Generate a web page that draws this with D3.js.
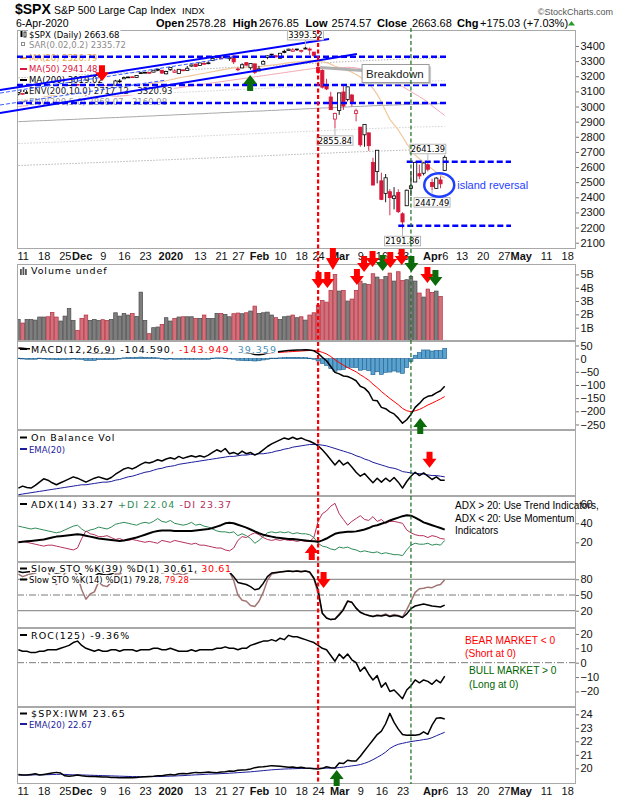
<!DOCTYPE html>
<html>
<head>
<meta charset="utf-8">
<script src="https://cdn.jsdelivr.net/npm/d3@7"></script>
<style>
  body { margin: 0; background: #fff; }
  svg { display: block; }
  text { white-space: pre; }
</style>
</head>
<body>
<svg id="chart" width="620" height="800"></svg>
<script>
// trading days with data (8-Nov-2019 .. 6-Apr-2020), then the empty part of the axis
var tradingDays = [
  ["2019-11", [8, 11, 12, 13, 14, 15, 18, 19, 20, 21, 22, 25, 26, 27, 29]],
  ["2019-12", [2, 3, 4, 5, 6, 9, 10, 11, 12, 13, 16, 17, 18, 19, 20, 23, 24, 26, 27, 30, 31]],
  ["2020-01", [2, 3, 6, 7, 8, 9, 10, 13, 14, 15, 16, 17, 21, 22, 23, 24, 27, 28, 29, 30, 31]],
  ["2020-02", [3, 4, 5, 6, 7, 10, 11, 12, 13, 14, 18, 19, 20, 21, 24, 25, 26, 27, 28]],
  ["2020-03", [2, 3, 4, 5, 6, 9, 10, 11, 12, 13, 16, 17, 18, 19, 20, 23, 24, 25, 26, 27, 30, 31]],
  ["2020-04", [1, 2, 3, 6]]
];
var futureDays = [
  ["2020-04", [7, 8, 9, 13, 14, 15, 16, 17, 20, 21, 22, 23, 24, 27, 28, 29, 30]],
  ["2020-05", [1, 4, 5, 6, 7, 8, 11, 12, 13, 14, 15, 18, 19]]
];

var axisTickDates = ["2019-11-11", "2019-11-18", "2019-11-25", "2019-12-02", "2019-12-09", "2019-12-16",
  "2019-12-23", "2020-01-02", "2020-01-13", "2020-01-21", "2020-01-27", "2020-02-03", "2020-02-10",
  "2020-02-18", "2020-02-24", "2020-03-02", "2020-03-09", "2020-03-16", "2020-03-23", "2020-04-01",
  "2020-04-06", "2020-04-13", "2020-04-20", "2020-04-27", "2020-05-01", "2020-05-11", "2020-05-18"];
var axisTickLabels = ["11", "18", "25", "Dec", "9", "16", "23", "2020", "13", "21", "27", "Feb", "10",
  "18", "24", "Mar", "9", "16", "23", "Apr", "6", "13", "20", "27", "May", "11", "18"];

// [open, high, low, close]
var spxOhlc = [
  [3082, 3094, 3074, 3093], [3081, 3088, 3076, 3087], [3089, 3102, 3084, 3092], [3084, 3098, 3078, 3094],
  [3091, 3098, 3083, 3097], [3107, 3121, 3104, 3120], [3118, 3124, 3112, 3122], [3128, 3128, 3112, 3120],
  [3114, 3119, 3091, 3108], [3109, 3110, 3094, 3104], [3112, 3113, 3097, 3110], [3118, 3134, 3118, 3134],
  [3135, 3142, 3131, 3141], [3145, 3155, 3143, 3154], [3147, 3150, 3139, 3141], [3143, 3144, 3110, 3114],
  [3087, 3095, 3070, 3093], [3103, 3120, 3103, 3113], [3119, 3120, 3102, 3117], [3134, 3150, 3134, 3146],
  [3141, 3148, 3135, 3136], [3135, 3143, 3126, 3133], [3136, 3143, 3134, 3142], [3141, 3176, 3138, 3169],
  [3167, 3182, 3156, 3169], [3183, 3198, 3183, 3191], [3195, 3198, 3191, 3193], [3196, 3199, 3191, 3191],
  [3192, 3206, 3192, 3205], [3223, 3226, 3217, 3221], [3226, 3228, 3221, 3224], [3225, 3226, 3220, 3223],
  [3227, 3240, 3227, 3240], [3247, 3248, 3235, 3240], [3240, 3240, 3216, 3221], [3216, 3232, 3213, 3231],
  [3245, 3258, 3236, 3258], [3226, 3246, 3223, 3235], [3218, 3247, 3215, 3246], [3242, 3245, 3233, 3237],
  [3238, 3268, 3236, 3253], [3267, 3275, 3263, 3275], [3281, 3282, 3261, 3265], [3271, 3288, 3268, 3288],
  [3285, 3294, 3277, 3283], [3283, 3298, 3280, 3289], [3303, 3317, 3302, 3317], [3323, 3330, 3318, 3330],
  [3321, 3329, 3317, 3321], [3331, 3337, 3320, 3322], [3316, 3327, 3302, 3326], [3334, 3334, 3281, 3295],
  [3248, 3259, 3234, 3244], [3255, 3286, 3253, 3276], [3290, 3293, 3271, 3273], [3256, 3285, 3243, 3284],
  [3282, 3282, 3214, 3226], [3235, 3268, 3235, 3249], [3280, 3306, 3280, 3298], [3324, 3338, 3313, 3335],
  [3344, 3348, 3334, 3346], [3335, 3341, 3323, 3328], [3319, 3352, 3317, 3352], [3365, 3375, 3352, 3358],
  [3370, 3382, 3369, 3379], [3365, 3386, 3361, 3374], [3378, 3381, 3367, 3380], [3370, 3375, 3356, 3370],
  [3380, 3394, 3379, 3386], [3380, 3390, 3341, 3373], [3360, 3360, 3328, 3338], [3258, 3260, 3215, 3226],
  [3239, 3247, 3119, 3128], [3140, 3183, 3109, 3116], [3063, 3097, 2977, 2979], [2917, 2960, 2856, 2954],
  [2974, 3091, 2945, 3090], [3096, 3137, 2977, 3003], [3046, 3131, 3034, 3130], [3076, 3083, 3000, 3024],
  [2954, 2986, 2902, 2972], [2864, 2864, 2734, 2747], [2813, 2883, 2734, 2882], [2826, 2826, 2707, 2741],
  [2631, 2661, 2479, 2481], [2570, 2711, 2492, 2711], [2509, 2563, 2381, 2386], [2426, 2554, 2367, 2529],
  [2437, 2454, 2281, 2398], [2393, 2467, 2320, 2409], [2432, 2453, 2296, 2305], [2291, 2301, 2192, 2237],
  [2344, 2450, 2344, 2447], [2458, 2571, 2408, 2476], [2501, 2637, 2501, 2630], [2556, 2616, 2520, 2541],
  [2559, 2632, 2545, 2627], [2615, 2641, 2571, 2585], [2498, 2523, 2447, 2471], [2459, 2533, 2456, 2527],
  [2515, 2538, 2460, 2489], [2578, 2677, 2575, 2664]
];

// billions; no volume yet for 6-Apr
var volume = [
  1.62, 1.35, 1.62, 1.62, 1.57, 1.8, 1.8, 1.82, 2.15, 1.8,
  1.5, 1.87, 2.45, 1.55, 0.8, 1.7, 1.95, 1.55, 1.62, 1.55,
  1.6, 1.55, 1.62, 2.12, 1.87, 2.07, 1.95, 2.07, 1.85, 3.67,
  1.55, 0.55, 1.0, 1.05, 1.25, 1.75, 1.5, 1.7, 1.8, 1.82,
  1.82, 1.82, 1.7, 1.7, 1.95, 1.7, 1.7, 2.07, 2.07, 2.0,
  1.82, 2.05, 2.1, 2.05, 2.12, 2.25, 2.62, 2.07, 2.12, 2.17,
  1.95, 1.75, 1.62, 1.82, 1.87, 1.95, 1.75, 1.82, 1.57, 1.95,
  2.12, 2.7, 3.05, 2.92, 3.8, 5.0, 3.75, 3.8, 3.0, 3.15,
  3.8, 4.5, 4.3, 4.25, 5.05, 4.8, 4.6, 4.85, 5.1, 4.5,
  5.2, 4.55, 4.6, 4.85, 4.5, 3.6, 3.3, 3.9, 3.65, 3.75,
  3.35, null
];

var ma20 = [
  3030, 3036, 3042, 3047, 3052, 3058, 3063, 3068, 3072, 3076,
  3081, 3086, 3091, 3096, 3100, 3103, 3104, 3105, 3107, 3110,
  3112, 3114, 3116, 3119, 3122, 3126, 3129, 3132, 3137, 3142,
  3146, 3150, 3155, 3159, 3164, 3170, 3177, 3183, 3189, 3195,
  3199, 3204, 3209, 3215, 3220, 3225, 3230, 3236, 3241, 3246,
  3251, 3255, 3256, 3258, 3260, 3262, 3262, 3263, 3266, 3270,
  3274, 3277, 3281, 3285, 3289, 3292, 3295, 3297, 3300, 3303,
  3303, 3300, 3296, 3290, 3280, 3266, 3258, 3246, 3238, 3226,
  3212, 3195, 3175, 3150, 3120, 3080, 3030, 2970, 2915, 2880,
  2845, 2800, 2755, 2715, 2680, 2655, 2632, 2610, 2588, 2566,
  2546, 2527
];
var ma50 = [
  3000, 3003, 3006, 3009, 3012, 3015, 3018, 3021, 3024, 3027,
  3030, 3033, 3036, 3039, 3042, 3044, 3046, 3048, 3050, 3053,
  3056, 3059, 3062, 3065, 3068, 3071, 3074, 3078, 3082, 3086,
  3090, 3094, 3098, 3102, 3106, 3110, 3115, 3120, 3124, 3128,
  3132, 3136, 3140, 3144, 3148, 3152, 3156, 3160, 3164, 3168,
  3172, 3176, 3180, 3184, 3188, 3192, 3196, 3200, 3204, 3208,
  3212, 3216, 3220, 3224, 3228, 3232, 3236, 3240, 3244, 3248,
  3252, 3255, 3257, 3258, 3258, 3257, 3258, 3258, 3259, 3258,
  3255, 3250, 3245, 3238, 3229, 3220, 3207, 3195, 3181, 3166,
  3150, 3132, 3115, 3098, 3082, 3065, 3048, 3028, 3005, 2983,
  2962, 2941
];
var ma200 = [
  2900, 2901, 2902, 2904, 2905, 2906, 2907, 2908, 2909, 2911,
  2912, 2913, 2914, 2915, 2916, 2918, 2919, 2920, 2921, 2922,
  2924, 2925, 2926, 2927, 2928, 2930, 2931, 2932, 2933, 2935,
  2936, 2937, 2938, 2940, 2941, 2942, 2943, 2945, 2946, 2947,
  2948, 2950, 2951, 2952, 2953, 2955, 2956, 2957, 2959, 2960,
  2961, 2963, 2964, 2965, 2966, 2968, 2969, 2970, 2971, 2973,
  2974, 2975, 2977, 2978, 2979, 2981, 2982, 2983, 2985, 2986,
  2987, 2989, 2990, 2991, 2992, 2994, 2995, 2996, 2997, 2999,
  3000, 3001, 3002, 3004, 3005, 3006, 3007, 3008, 3009, 3010,
  3011, 3012, 3013, 3014, 3015, 3016, 3016, 3017, 3018, 3018,
  3019, 3019
];

var macdLine = [
  40, 39, 38, 38, 37, 40, 40, 39, 36, 33,
  32, 33, 34, 36, 35, 31, 25, 23, 21, 23,
  22, 21, 21, 24, 25, 28, 30, 31, 33, 35,
  36, 36, 37, 37, 35, 34, 35, 34, 33, 32,
  32, 33, 32, 33, 33, 33, 35, 37, 37, 37,
  36, 33, 27, 24, 22, 20, 16, 15, 17, 21,
  24, 25, 27, 29, 31, 32, 33, 33, 34, 33,
  30, 20, 5, -8, -30, -52, -58, -66, -68, -75,
  -84, -105, -112, -128, -158, -160, -185, -190, -202, -210,
  -226, -245, -232, -212, -185, -170, -152, -143, -140, -130,
  -122, -105
];
var macdSignal = [
  38, 38, 38, 38, 38, 38, 39, 39, 38, 37,
  36, 36, 35, 35, 35, 34, 32, 30, 28, 27,
  26, 25, 24, 24, 24, 25, 26, 27, 28, 29,
  31, 32, 33, 34, 34, 34, 34, 34, 34, 34,
  33, 33, 33, 33, 33, 33, 33, 34, 34, 35,
  35, 35, 33, 31, 30, 28, 25, 23, 22, 22,
  22, 23, 24, 25, 26, 27, 28, 29, 30, 31,
  31, 29, 24, 18, 8, -4, -15, -25, -34, -42,
  -50, -61, -71, -82, -97, -110, -125, -138, -151, -163,
  -175, -189, -198, -201, -198, -193, -185, -176, -169, -161,
  -153, -144
];

var obv = [
  12, 15, 13, 12, 16, 21, 26, 24, 20, 17,
  20, 23, 26, 29, 27, 24, 21, 24, 27, 29,
  27, 25, 28, 33, 37, 41, 43, 41, 44, 48,
  51, 50, 52, 55, 53, 56, 58, 56, 60, 57,
  59, 61, 59, 61, 59, 62, 66, 70, 67, 72,
  64, 66, 63, 68, 64, 66, 62, 65, 70, 75,
  79, 82, 85, 88, 86, 89, 86, 88, 85, 83,
  80, 76, 70, 63, 55, 47, 54, 47, 51, 44,
  36, 30, 34, 27, 20, 27, 21, 27, 22, 28,
  21, 12, 22, 30, 36, 31, 35, 30, 25, 29,
  24, 24
];
var obvEma = [
  2, 3, 4, 5, 6, 7, 8, 9, 10, 11,
  12, 13, 14, 15, 16, 17, 17, 18, 19, 20,
  21, 21, 22, 24, 25, 27, 29, 30, 32, 34,
  36, 37, 39, 41, 42, 44, 45, 46, 48, 49,
  50, 51, 52, 53, 54, 55, 56, 57, 58, 59,
  60, 60, 61, 62, 62, 63, 63, 64, 64, 65,
  66, 68, 69, 71, 72, 74, 75, 76, 77, 78,
  78, 78, 77, 76, 74, 72, 70, 68, 66, 64,
  61, 59, 56, 54, 51, 49, 47, 45, 43, 42,
  40, 37, 36, 35, 34, 34, 33, 32, 31, 31,
  30, 29
];

var adx = [
  20, 20.5, 21, 21.5, 22, 22.5, 23, 24, 25, 26,
  26.5, 27, 27.5, 28, 28.5, 28, 27, 26, 25, 24,
  23.5, 23, 22.5, 22, 21.5, 22, 23, 24, 25, 26.5,
  28, 29.5, 31, 32, 32.5, 32.5, 32.5, 32, 32, 32,
  32, 32, 32.5, 33, 33.5, 34, 35, 36.5, 38, 40,
  40.5, 40, 38.5, 37, 35.5, 33.5, 31.5, 29.5, 28, 27,
  26, 25, 24.5, 24, 23.5, 23.5, 23, 22.5, 22, 21.5,
  21, 20.5, 22, 24, 26.5, 29, 30, 30.5, 31, 31,
  31.5, 32.5, 33.5, 35, 37, 38, 39.5, 41, 43, 44.5,
  46, 47.5, 48.5, 48, 46, 43.5, 41, 39.5, 38, 36.5,
  35, 33.3
];
var plusDI = [
  37, 36, 35, 34, 35, 34, 33, 32, 31, 30,
  31, 33, 35, 37, 38, 34, 31, 33, 34, 36,
  35, 34, 36, 39, 40, 41, 40, 39, 38, 40,
  41, 40, 42, 45, 42, 41, 43, 40, 39, 38,
  39, 41, 38, 39, 37, 36, 34, 32, 31, 31,
  30, 31, 27, 29, 27, 24, 19, 22, 26, 30,
  31, 30, 31, 30, 31, 29, 30, 29, 29, 28,
  25, 19, 16, 15, 13, 12, 15, 14, 15, 13,
  12, 10, 11, 10, 9, 10, 8, 9, 8, 7,
  7, 6, 12, 17, 19, 18, 18, 19, 17, 18,
  17, 22
];
var minusDI = [
  20, 21, 20, 19, 18, 17, 16, 17, 17, 16,
  15, 14, 13, 12, 14, 24, 32, 29, 28, 26,
  26, 27, 25, 23, 24, 22, 22, 23, 22, 21,
  20, 21, 20, 19, 22, 21, 20, 22, 21, 20,
  19, 18, 19, 17, 17, 16, 15, 14, 14, 12,
  11, 14, 22, 26, 25, 28, 30, 28, 25, 23,
  22, 23, 22, 23, 22, 22, 21, 22, 21, 21,
  25, 42, 50, 53, 58, 61, 50, 44, 38, 42,
  45, 48, 44, 43, 47, 42, 44, 40, 42, 42,
  41, 40, 33, 30, 28, 27, 27, 25, 27, 26,
  24, 23.4
];

var sto39 = [
  95, 93, 94, 95, 96, 98, 98, 97, 94, 92,
  93, 96, 97, 99, 96, 88, 82, 85, 86, 91,
  89, 88, 90, 94, 94, 97, 97, 96, 98, 99,
  99, 99, 100, 99, 96, 97, 99, 96, 97, 96,
  97, 99, 96, 98, 96, 97, 99, 100, 97, 95,
  94, 85, 74, 72, 70, 66, 60, 62, 72, 85,
  92, 93, 94, 95, 96, 95, 96, 95, 96, 94,
  82, 60, 15, 6, 3, 4, 12, 22, 38, 36,
  25, 17, 13, 11, 9, 11, 10, 12, 9, 11,
  10, 7, 14, 24, 29, 31, 33, 31, 29, 28,
  27, 30.6
];
var sto14 = [
  90, 85, 88, 90, 92, 97, 97, 94, 80, 70,
  78, 92, 95, 98, 86, 60, 42, 52, 56, 75,
  68, 66, 74, 90, 90, 96, 96, 95, 98, 99,
  99, 98, 100, 99, 92, 94, 99, 88, 91, 88,
  92, 98, 92, 96, 93, 94, 98, 100, 96, 95,
  94, 78, 50, 40, 38, 30, 28, 38, 55, 78,
  90, 92, 94, 95, 96, 95, 96, 94, 96, 93,
  82, 52, 15, 6, 3, 4, 14, 24, 39, 36,
  25, 17, 14, 11, 9, 12, 11, 14, 10, 13,
  11, 8, 22, 38, 55, 62, 63, 65, 64, 68,
  70, 79.3
];

var roc125 = [
  9, 8, 8, 7, 7, 8, 8, 9, 9, 9,
  10, 11, 12, 14, 15, 12, 10, 9, 8, 9,
  8, 8, 9, 9, 8, 9, 9, 9, 8, 9,
  9, 9, 10, 10, 9, 9, 10, 9, 8, 8,
  8, 9, 8, 9, 9, 9, 9, 10, 10, 11,
  10, 10, 9, 10, 10, 12, 13, 14, 15, 15,
  16, 15, 17, 16, 19, 18, 18, 17, 16, 15,
  14, 12, 10, 9, 5, 1, 6, 3, 6, 2,
  0, -6, -3, -8, -12, -9, -17, -14, -20, -19,
  -22, -25, -19, -16, -12, -14, -12, -13, -15, -12,
  -14, -9.4
];

var spxIwm = [
  19.55, 19.5, 19.5, 19.55, 19.6, 19.5, 19.55, 19.6, 19.65, 19.7,
  19.65, 19.45, 19.42, 19.45, 19.5, 19.45, 19.42, 19.4, 19.4, 19.38,
  19.35, 19.35, 19.33, 19.32, 19.3, 19.3, 19.32, 19.3, 19.33, 19.35,
  19.38, 19.4, 19.42, 19.45, 19.45, 19.5, 19.55, 19.5, 19.6, 19.62,
  19.6, 19.65, 19.7, 19.68, 19.7, 19.72, 19.7, 19.68, 19.72, 19.75,
  19.8, 19.78, 19.85, 19.88, 19.9, 19.95, 20.05, 20.1, 20.12, 20.15,
  20.2, 20.18, 20.15, 20.12, 20.08, 20.1, 20.05, 20.08, 20.02, 20.0,
  19.97, 19.95, 20.0, 20.12, 20.05, 20.02, 20.4, 20.35, 20.6, 20.55,
  20.55, 20.9, 21.3, 21.7, 22.1, 22.5, 22.75, 23.3, 24.07, 23.4,
  22.9, 22.5, 22.45, 22.47, 22.45, 22.5, 22.7, 22.52, 23.2, 23.7,
  23.75, 23.65
];
var spxIwmEma = [
  19.5, 19.5, 19.5, 19.5, 19.52, 19.52, 19.52, 19.53, 19.54, 19.55,
  19.56, 19.55, 19.53, 19.52, 19.52, 19.51, 19.5, 19.49, 19.48, 19.47,
  19.46, 19.45, 19.44, 19.43, 19.42, 19.41, 19.4, 19.39, 19.39, 19.38,
  19.38, 19.38, 19.39, 19.39, 19.4, 19.41, 19.42, 19.43, 19.45, 19.46,
  19.48, 19.5, 19.52, 19.53, 19.55, 19.57, 19.58, 19.59, 19.61, 19.62,
  19.64, 19.66, 19.68, 19.7, 19.72, 19.74, 19.77, 19.8, 19.83, 19.86,
  19.89, 19.91, 19.93, 19.95, 19.96, 19.97, 19.98, 19.99, 19.99, 20.0,
  20.0, 20.0, 20.0, 20.01, 20.02, 20.02, 20.06, 20.09, 20.14, 20.18,
  20.22, 20.28, 20.37, 20.49, 20.64, 20.81, 20.99, 21.2, 21.47, 21.65,
  21.78, 21.85, 21.92, 21.98, 22.03, 22.07, 22.13, 22.17, 22.27, 22.41,
  22.54, 22.67
];

// annotations drawn on the chart (trading-day index / panel value)
var redLineDate = "2020-02-24", greenLineDate = "2020-03-25";
var levelLines = [
  {p: 3329, from: -0.33, to: 101.6}, {p: 3142, from: -0.33, to: 101.6}, {p: 3023, from: -0.33, to: 101.6},
  {p: 2635, from: 92, to: 116.7}, {p: 2212, from: 90, to: 116.7}
];
var trendLines = [
  {i1: -4.36, p1: 3109, i2: 73.6, p2: 3446, dashed: false},
  {i1: -4.36, p1: 2957, i2: 80.2, p2: 3347, dashed: false},
  {i1: -4.36, p1: 3089, i2: 50.9, p2: 3327, dashed: true},
  {i1: -4.36, p1: 3010, i2: 35, p2: 3175, dashed: true}
];
var priceCallouts = [
  {i: 68, p: 3393.52, above: true}, {i: 75, p: 2855.84, above: false}, {i: 97, p: 2641.39, above: true},
  {i: 98, p: 2447.49, above: false}, {i: 91, p: 2191.86, above: false}
];
var arrowMarks = [
  {panel: "price", i: 19.8, v: 3167, dir: "down", c: "r"}, {panel: "price", i: 54.9, v: 3208, dir: "up", c: "g"},
  {panel: "vol", i: 71.1, v: 3.98, dir: "down", c: "r"}, {panel: "vol", i: 73.2, v: 3.98, dir: "down", c: "r"},
  {panel: "vol", i: 74.5, v: 5.33, dir: "down", c: "r", h: 22}, {panel: "vol", i: 80.2, v: 4.2, dir: "down", c: "r"},
  {panel: "vol", i: 81.9, v: 5.18, dir: "down", c: "r"}, {panel: "vol", i: 83.9, v: 5.56, dir: "down", c: "r"},
  {panel: "vol", i: 86.3, v: 5.26, dir: "down", c: "g"}, {panel: "vol", i: 88.1, v: 5.48, dir: "down", c: "r"},
  {panel: "vol", i: 90.8, v: 5.7, dir: "down", c: "r"}, {panel: "vol", i: 93.1, v: 5.18, dir: "down", c: "g"},
  {panel: "vol", i: 96.9, v: 4.35, dir: "down", c: "r"}, {panel: "vol", i: 98.8, v: 4.13, dir: "down", c: "g"},
  {panel: "macd", i: 95.2, v: -225, dir: "up", c: "g"}, {panel: "obv", i: 97.4, v: 42.9, dir: "down", c: "r"},
  {panel: "adx", i: 69.5, v: 18.2, dir: "up", c: "r"}, {panel: "sto", i: 72.3, v: 63.5, dir: "down", c: "r"},
  {panel: "ratio", i: 75.4, v: 19.87, dir: "up", c: "g"}
];
var breakdownAnchor = {i: 71, p: 3258};
var islandCircle = {i: 99.7, p: 2481};

var RED = "#ff0000", GREEN = "#0b6b0b", ARIAL = "Liberation Sans, Arial, sans-serif", VERD = "DejaVu Sans, Verdana, sans-serif";

var svg = d3.select("#chart");
var L = 17, R = 576;
var x = d3.scaleLinear().domain([-0.33, 132.1]).range([L, R]);

function expand(groups) {
  var out = [];
  groups.forEach(function (g) {
    g[1].forEach(function (d) { out.push(g[0] + "-" + (d < 10 ? "0" : "") + d); });
  });
  return out;
}
var dates = expand(tradingDays);
var axisDates = dates.concat(expand(futureDays));
var dayIndex = new Map(axisDates.map(function (d, i) { return [d, i]; }));

var panels = [
  {id: "price", top: 30, bottom: 249, domain: [2058.3, 3505.7], ticks: d3.range(2100, 3401, 100)},
  {id: "vol", top: 264, bottom: 341, domain: [0, 5.78], ticks: [1, 2, 3, 4, 5], fmt: function (d) { return d + "B"; }},
  {id: "macd", top: 341, bottom: 430, domain: [-271, 67], ticks: [-250, -200, -150, -100, -50, 0, 50]},
  {id: "obv", top: 430, bottom: 496, domain: [0, 100], ticks: []},
  {id: "adx", top: 496, bottom: 562, domain: [-0.7, 68.7], ticks: [20, 40, 60]},
  {id: "sto", top: 562, bottom: 628, domain: [-13, 113], ticks: [20, 50, 80]},
  {id: "roc", top: 628, bottom: 707, domain: [-30.8, 24.1], ticks: [-20, -10, 0, 10, 20]},
  {id: "ratio", top: 707, bottom: 784, domain: [18.84, 24.54], ticks: [20, 21, 22, 23, 24]}
];
var P = {};
var defs = svg.append("defs");
panels.forEach(function (p) {
  p.y = d3.scaleLinear().domain(p.domain).range([p.bottom, p.top]);
  P[p.id] = p;
  defs.append("clipPath").attr("id", "clip-" + p.id).append("rect")
    .attr("x", L).attr("y", p.top).attr("width", R - L).attr("height", p.bottom - p.top);
  svg.append("rect").attr("x", L).attr("y", p.top).attr("width", R - L).attr("height", p.bottom - p.top)
    .attr("fill", "#fff");
  p.g = svg.append("g").attr("clip-path", "url(#clip-" + p.id + ")");
});

function seriesLine(panel, values, color, width, dash) {
  var p = P[panel];
  var line = d3.line()
    .defined(function (d) { return d != null; })
    .x(function (d, i) { return x(i); })
    .y(function (d) { return p.y(d); });
  return p.g.append("path").datum(values)
    .attr("d", line)
    .attr("fill", "none")
    .attr("stroke", color)
    .attr("stroke-width", width)
    .attr("stroke-linejoin", "round")
    .attr("stroke-dasharray", dash || null);
}

function refLine(panel, v, dash) {
  P[panel].g.append("line")
    .attr("x1", L).attr("x2", R).attr("y1", P[panel].y(v)).attr("y2", P[panel].y(v))
    .attr("stroke", "#7a7a7a").attr("stroke-width", 1)
    .attr("stroke-dasharray", dash || null);
}

// ---- price panel
var yP = P.price.y;
seriesLine("price", ma200.map(function (d) { return d * 1.10; }), "#b4b4b4", 1, "1.5,1.5");
seriesLine("price", ma200.map(function (d) { return d * 0.90; }), "#b4b4b4", 1, "1.5,1.5");
seriesLine("price", ma200.map(function (d) { return d * 1.05; }), "#d2d2d2", 1, "1.5,1.5");
seriesLine("price", ma200.map(function (d) { return d * 0.95; }), "#d2d2d2", 1, "1.5,1.5");
seriesLine("price", ma200, "#a8a8a8", 1);
seriesLine("price", ma50, "#f2aab4", 1);
seriesLine("price", ma20, "#f0c89c", 1.2);

function isDown(i) {
  var prev = i > 0 ? spxOhlc[i - 1][3] : spxOhlc[i][0];
  return spxOhlc[i][3] < prev;
}
function candleColor(i) { return isDown(i) ? "#d8173a" : "#000"; }

P.price.g.selectAll(".wick").data(spxOhlc).enter().append("line")
  .attr("x1", function (d, i) { return x(i); })
  .attr("x2", function (d, i) { return x(i); })
  .attr("y1", function (d) { return yP(d[1]); })
  .attr("y2", function (d) { return yP(d[2]); })
  .attr("stroke", function (d, i) { return candleColor(i); })
  .attr("stroke-width", 0.9);
P.price.g.selectAll(".body").data(spxOhlc).enter().append("rect")
  .attr("x", function (d, i) { return x(i) - 1.6; })
  .attr("width", 3.2)
  .attr("y", function (d) { return yP(Math.max(d[0], d[3])); })
  .attr("height", function (d) { return Math.max(0.8, Math.abs(yP(d[0]) - yP(d[3]))); })
  .attr("fill", function (d, i) { return d[3] < d[0] ? candleColor(i) : "#fff"; })
  .attr("stroke", function (d, i) { return candleColor(i); })
  .attr("stroke-width", 0.8);

// ---- volume
var yV = P.vol.y;
var volBars = volume.map(function (v, i) { return {v: v, i: i}; })
  .filter(function (d) { return d.v != null; });
P.vol.g.selectAll(".vbar").data(volBars).enter().append("rect")
  .attr("x", function (d) { return x(d.i) - 1.8; })
  .attr("width", 3.6)
  .attr("y", function (d) { return yV(d.v); })
  .attr("height", function (d) { return yV(0) - yV(d.v); })
  .attr("fill", function (d) { return isDown(d.i) ? "#d2707c" : "#7e7e7e"; })
  .attr("stroke", function (d) { return isDown(d.i) ? "#b3303f" : "#4a4a4a"; })
  .attr("stroke-width", 0.7);

// ---- MACD
var yM = P.macd.y;
var macdHist = macdLine.map(function (d, i) { return d - macdSignal[i]; });
P.macd.g.selectAll(".hbar").data(macdHist).enter().append("rect")
  .attr("x", function (d, i) { return x(i) - 2; })
  .attr("width", 4)
  .attr("y", function (d) { return Math.min(yM(0), yM(d)); })
  .attr("height", function (d) { return Math.max(0.6, Math.abs(yM(d) - yM(0))); })
  .attr("fill", "#5aa2d0")
  .attr("stroke", "#1e5f8e")
  .attr("stroke-width", 0.6);
seriesLine("macd", macdSignal, RED, 1);
seriesLine("macd", macdLine, "#000", 1.5);

// ---- OBV
seriesLine("obv", obvEma, "#1c1c9c", 1);
seriesLine("obv", obv, "#000", 1.5);

// ---- ADX
seriesLine("adx", plusDI, "#2e8b57", 1);
seriesLine("adx", minusDI, "#b5305a", 1);
seriesLine("adx", adx, "#000", 2);

// ---- stochastics
refLine("sto", 80);
refLine("sto", 20);
refLine("sto", 50, "7,2,1,2");
seriesLine("sto", sto14, "#a27474", 1.5);
seriesLine("sto", sto39, "#000", 1.5);

// ---- ROC
refLine("roc", 0, "7,2,1,2");
seriesLine("roc", roc125, "#000", 1.5);

// ---- SPX:IWM
seriesLine("ratio", spxIwmEma, "#1c1c9c", 1);
seriesLine("ratio", spxIwm, "#000", 1.5);

// ---- frames
panels.forEach(function (p) {
  svg.append("rect").attr("x", L + 0.5).attr("y", p.top + 0.5)
    .attr("width", R - L - 1).attr("height", p.bottom - p.top - 1)
    .attr("fill", "none").attr("stroke", "#a8a8a8");
});

// ---- legends (white box behind each line, like the original)
function legend(xPos, y, items, size, spacing) {
  var t = svg.append("text").attr("x", xPos).attr("y", y)
    .style("font-family", VERD).style("font-size", size + "px")
    .style("letter-spacing", spacing + "px");
  items.forEach(function (it) { t.append("tspan").attr("fill", it[1]).text(it[0]); });
  var b = t.node().getBBox();
  svg.insert("rect", function () { return t.node(); })
    .attr("x", b.x - 1).attr("y", y - size * 0.95).attr("width", b.width + 2).attr("height", size * 1.05)
    .attr("fill", "#fff");
  return t;
}
function dashIcon(y, color, dash) {
  svg.append("line").attr("x1", 20).attr("x2", 27).attr("y1", y).attr("y2", y)
    .attr("stroke", color).attr("stroke-width", 2).attr("stroke-dasharray", dash || null);
}

var priceLegend = [
  {y: 37.5, items: [["$SPX (Daily) 2663.68", "#000"]]},
  {y: 48, items: [["SAR(0.02,0.2) 2335.72", "#8c8c8c"]]},
  {y: 61, items: [["MA(20) 2526.79", "#e9a444"]], icon: "#e9a444"},
  {y: 72, items: [["MA(50) 2941.48", "#dc143c"]], icon: "#dc143c"},
  {y: 83, items: [["MA(200) 3019.02", "#000"]], icon: "#000"},
  {y: 94, items: [["ENV(200,10.0) 2717.12 - 3320.93", "#222"]], icon: "#444", dash: "1.5,1.5"},
  {y: 105, items: [["ENV(200,5.0) 2868.07 - 3169.98", "#9a9a9a"]], icon: "#aaa", dash: "1.5,1.5"}
];
priceLegend.forEach(function (row) {
  legend(29, row.y, row.items, 8.5, 0);
  if (row.icon) dashIcon(row.y - 3, row.icon, row.dash);
});
// candle icon and SAR square
svg.append("rect").attr("x", 20.5).attr("y", 31).attr("width", 2).attr("height", 6).attr("fill", "#000");
svg.append("rect").attr("x", 24).attr("y", 32).attr("width", 2).attr("height", 5).attr("fill", "none")
  .attr("stroke", "#000").attr("stroke-width", 0.8);
svg.append("rect").attr("x", 21.5).attr("y", 42.5).attr("width", 3).attr("height", 3).attr("fill", "none")
  .attr("stroke", "#8c8c8c");

legend(31, 274, [["Volume undef", "#000"]], 9.5, 0.9);
[0, 1, 2].forEach(function (k) {
  svg.append("rect").attr("x", 20 + k * 2.5).attr("y", 268 + (k === 1 ? -1 : 1)).attr("width", 1.8)
    .attr("height", 7 - (k === 1 ? -1 : 1)).attr("fill", "#555");
});

legend(31, 352.5, [["MACD(12,26,9) -104.590", "#000"], [", -143.949", RED], [", 39.359", "#4a90b8"]], 9.5, 1);
dashIcon(349, "#000");

legend(31, 441, [["On Balance Vol", "#000"]], 9.5, 0.9);
dashIcon(437.5, "#000");
legend(29, 452.5, [["EMA(20)", "#1c1c9c"]], 8.5, 0);
dashIcon(449, "#1c1c9c");

legend(31, 507.5, [["ADX(14) 33.27 ", "#000"], ["+DI 22.04 ", "#2e8b57"], ["-DI 23.37", "#b5305a"]], 9.5, 1);
dashIcon(504, "#000");

legend(31, 572, [["Slow STO %K(39) %D(1) 30.61, ", "#000"], ["30.61", RED]], 9.5, 0.65);
dashIcon(568.5, "#000");
legend(29, 583, [["Slow STO %K(14) %D(1) 79.28, ", "#000"], ["79.28", RED]], 8.5, 0);
dashIcon(579.5, "#000");

legend(31, 638.5, [["ROC(125) -9.36%", "#000"]], 9.5, 1.1);
dashIcon(635, "#000");

legend(31, 717, [["$SPX:IWM 23.65", "#000"]], 9.5, 1.2);
dashIcon(713.5, "#000");
legend(29, 727.5, [["EMA(20) 22.67", "#1c1c9c"]], 8.5, 0);
dashIcon(724, "#1c1c9c");

// ---- notes
function note(xPos, y, txt, color, size) {
  svg.append("text").attr("x", xPos).attr("y", y).text(txt)
    .style("font-family", ARIAL).style("font-size", size + "px").attr("fill", color);
}
note(455, 509, "ADX > 20: Use Trend Indicators,", "#000", 10);
note(455, 521.5, "ADX < 20: Use Momentum", "#000", 10);
note(455, 534, "Indicators", "#000", 10);
note(465, 644, "BEAR MARKET < 0", RED, 10.2);
note(465, 656.5, "(Short at 0)", RED, 10.2);
note(469, 673.5, "BULL MARKET > 0", "#006400", 10.2);
note(469, 688, "(Long at 0)", "#006400", 10.2);

// ---- axes
var tickIdx = axisTickDates.map(function (d) { return dayIndex.get(d); });
function dateAxis(yPos) {
  var g = svg.append("g").attr("transform", "translate(0," + yPos + ")")
    .call(d3.axisBottom(x).tickValues(tickIdx).tickSize(0).tickPadding(3.5)
      .tickFormat(function (d, i) { return axisTickLabels[i]; }));
  g.select(".domain").remove();
  g.selectAll("text")
    .style("font-family", ARIAL).style("font-size", "11px").attr("fill", "#111")
    .style("font-weight", function (d, i) { return /^\d{1,2}$/.test(axisTickLabels[i]) ? "normal" : "bold"; });
}
dateAxis(249);
dateAxis(784);

panels.forEach(function (p) {
  if (!p.ticks.length) return;
  var g = svg.append("g").attr("transform", "translate(" + R + ",0)")
    .call(d3.axisRight(p.y).tickValues(p.ticks).tickSize(3).tickPadding(1.5)
      .tickFormat(p.fmt || d3.format("d")));
  g.select(".domain").remove();
  g.selectAll("line").attr("stroke", "#777");
  g.selectAll("text").style("font-family", ARIAL).style("font-size", "11px").attr("fill", "#111");
});

// ---- price annotations
levelLines.forEach(function (d) {
  svg.append("line").attr("x1", x(d.from)).attr("x2", x(d.to)).attr("y1", yP(d.p)).attr("y2", yP(d.p))
    .attr("stroke", "#0000ff").attr("stroke-width", 2.5).attr("stroke-dasharray", "6,3");
});
trendLines.forEach(function (d) {
  svg.append("line").attr("x1", x(d.i1)).attr("x2", x(d.i2)).attr("y1", yP(d.p1)).attr("y2", yP(d.p2))
    .attr("stroke", d.dashed ? "#3a5cff" : "#0000ff")
    .attr("stroke-width", d.dashed ? 1 : 2)
    .attr("stroke-dasharray", d.dashed ? "4,2" : null);
});

priceCallouts.forEach(function (d) {
  var cx = x(d.i), py = yP(d.p), w = 36, h = 9.5;
  var top = d.above ? py - 7 - h : py + 7.5;
  svg.append("line").attr("x1", cx).attr("x2", cx).attr("y1", py).attr("y2", d.above ? top + h : top)
    .attr("stroke", "#b8b8b8");
  svg.append("rect").attr("x", cx - w / 2).attr("y", top).attr("width", w).attr("height", h)
    .attr("fill", "#fff").attr("stroke", "#b8b8b8");
  svg.append("text").attr("x", cx).attr("y", top + h - 1.6).attr("text-anchor", "middle")
    .text(d.p.toFixed(2)).style("font-family", VERD).style("font-size", "8.3px").attr("fill", "#000");
});

var bx = x(breakdownAnchor.i), by = yP(breakdownAnchor.p);
svg.append("line").attr("x1", bx + 2).attr("y1", by).attr("x2", bx + 44).attr("y2", by + 3)
  .attr("stroke", "#b0b0b0").attr("stroke-width", 3);
svg.append("rect").attr("x", bx + 46).attr("y", by - 1).attr("width", 67).attr("height", 18).attr("fill", "#c8c8c8");
svg.append("rect").attr("x", bx + 44).attr("y", by - 3).attr("width", 67).attr("height", 18)
  .attr("fill", "#fff").attr("stroke", "#9a9a9a");
svg.append("text").attr("x", bx + 48).attr("y", by + 10.5).text("Breakdown")
  .style("font-family", ARIAL).style("font-size", "11.5px").attr("fill", "#222");

svg.append("ellipse").attr("cx", x(islandCircle.i)).attr("cy", yP(islandCircle.p)).attr("rx", 15).attr("ry", 11.7)
  .attr("fill", "none").attr("stroke", "#1f3fff").attr("stroke-width", 2.5);
svg.append("text").attr("x", x(islandCircle.i) + 18).attr("y", yP(islandCircle.p) + 4).text("island reversal")
  .style("font-family", ARIAL).style("font-size", "11px").attr("fill", "#1f3fff");

// ---- event lines
svg.append("line").attr("x1", x(dayIndex.get(redLineDate))).attr("x2", x(dayIndex.get(redLineDate)))
  .attr("y1", 30).attr("y2", 784).attr("stroke", RED).attr("stroke-width", 2.2).attr("stroke-dasharray", "4,2.5");
svg.append("line").attr("x1", x(dayIndex.get(greenLineDate))).attr("x2", x(dayIndex.get(greenLineDate)))
  .attr("y1", 28).attr("y2", 784).attr("stroke", "#1a6e1a").attr("stroke-width", 1.2).attr("stroke-dasharray", "4,2.5");

// ---- arrows
function arrowPath(cx, ty, dir, h) {
  var w = 7, s = 3, hh = Math.round(h * 0.55), k = dir === "down" ? -1 : 1;
  return "M" + cx + "," + ty +
    "L" + (cx - w) + "," + (ty + k * hh) + "L" + (cx - s) + "," + (ty + k * hh) +
    "L" + (cx - s) + "," + (ty + k * h) + "L" + (cx + s) + "," + (ty + k * h) +
    "L" + (cx + s) + "," + (ty + k * hh) + "L" + (cx + w) + "," + (ty + k * hh) + "Z";
}
svg.selectAll(".arrow").data(arrowMarks).enter().append("path")
  .attr("d", function (d) { return arrowPath(x(d.i), P[d.panel].y(d.v), d.dir, d.h || 16); })
  .attr("fill", function (d) { return d.c === "r" ? RED : GREEN; });

// ---- header
svg.append("text").attr("x", 15).attr("y", 14).text("$SPX")
  .style("font-family", ARIAL).style("font-size", "14px").style("font-weight", "bold");
svg.append("text").attr("x", 54).attr("y", 14).text("S&P 500 Large Cap Index")
  .style("font-family", ARIAL).style("font-size", "10.5px");
svg.append("text").attr("x", 182).attr("y", 14).text("INDX")
  .style("font-family", ARIAL).style("font-size", "9.5px");
svg.append("text").attr("x", 613).attr("y", 15).attr("text-anchor", "end").text("\u00a9StockCharts.com")
  .style("font-family", ARIAL).style("font-size", "9px").attr("fill", "#555");
svg.append("text").attr("x", 16).attr("y", 27).text("6-Apr-2020")
  .style("font-family", ARIAL).style("font-size", "10.5px");
var quote = [["Open", 156, true], ["2578.28", 186], ["High", 232.7, true], ["2676.85", 259],
  ["Low", 305.5, true], ["2574.57", 331.6], ["Close", 377, true], ["2663.68", 412],
  ["Chg", 457, true], ["+175.03 (+7.03%)", 480]];
quote.forEach(function (q) {
  svg.append("text").attr("x", q[1]).attr("y", 27).text(q[0])
    .style("font-family", ARIAL).style("font-size", "11px").style("font-weight", q[2] ? "bold" : "normal");
});
svg.append("path").attr("d", "M568,25.5L575,25.5L571.5,21Z").attr("fill", "#2a9a2a");
</script>
</body>
</html>
